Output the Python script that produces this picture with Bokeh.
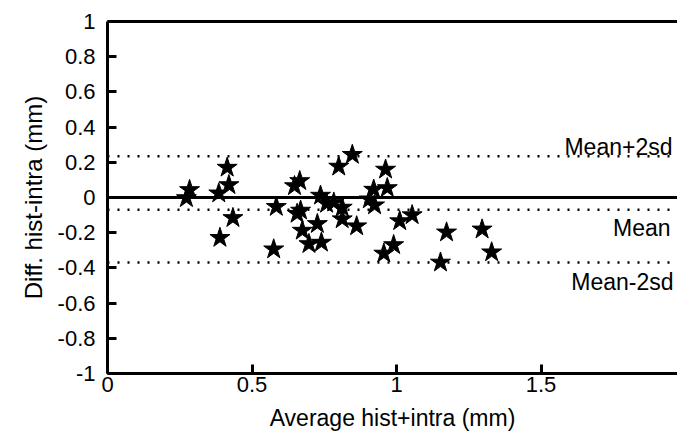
from bokeh.plotting import figure
from bokeh.models import Span, Label, LinearAxis, FixedTicker, Range1d, ColumnDataSource
from bokeh.embed import file_html
from bokeh.resources import INLINE

# Data
avg_mm = [0.284, 0.273, 0.385, 0.414, 0.420, 0.389, 0.434, 0.575, 0.584, 0.647,
          0.665, 0.656, 0.674, 0.726, 0.697, 0.740, 0.737, 0.758, 0.800, 0.847,
          0.783, 0.812, 0.812, 0.862, 0.906, 0.921, 0.968, 0.962, 1.011, 1.054,
          0.990, 0.956, 1.173, 1.152, 1.296, 1.329, 0.924, 0.668]
diff_mm = [0.043, -0.003, 0.024, 0.170, 0.071, -0.229, -0.116, -0.294, -0.053, 0.065,
           0.094, -0.092, -0.188, -0.150, -0.264, -0.256, 0.011, -0.035, 0.176, 0.243,
           -0.028, -0.057, -0.123, -0.163, -0.010, 0.045, 0.054, 0.159, -0.134, -0.100,
           -0.270, -0.318, -0.198, -0.369, -0.181, -0.311, -0.044, -0.074]

mean_diff = -0.07
upper_lim = 0.235
lower_lim = -0.37
line_names = ["Mean+2sd", "Mean", "Mean-2sd"]

x_ticks = [0, 0.5, 1, 1.5]
x_tick_labels = ["0", "0.5", "1", "1.5"]
y_ticks = [1, 0.8, 0.6, 0.4, 0.2, 0, -0.2, -0.4, -0.6, -0.8, -1]
y_tick_labels = ["1", "0.8", "0.6", "0.4", "0.2", "0", "-0.2", "-0.4", "-0.6", "-0.8", "-1"]

x_min, x_max = 0, 1.972
y_min, y_max = -1, 1

FONT = "Liberation Sans"

p = figure(width=677, height=437, output_backend="svg", toolbar_location=None,
           x_range=Range1d(x_min, x_max), y_range=Range1d(y_min, y_max),
           min_border_left=107, min_border_right=0, min_border_top=21, min_border_bottom=64)
p.outline_line_color = None
p.grid.visible = False
p.background_fill_color = "white"
p.border_fill_color = "white"

for ax in (p.xaxis[0], p.yaxis[0]):
    ax.axis_line_width = 3
    ax.axis_line_color = "black"
    ax.major_tick_in = 9
    ax.major_tick_out = 0
    ax.major_tick_line_width = 3
    ax.minor_tick_line_color = None
    ax.major_label_text_font = FONT
    ax.major_label_text_font_size = "22px"
    ax.major_label_text_color = "black"
    ax.axis_label_text_font = FONT
    ax.axis_label_text_font_size = "23px"
    ax.axis_label_text_font_style = "normal"
    ax.axis_label_text_color = "black"

p.xaxis[0].ticker = FixedTicker(ticks=x_ticks)
p.xaxis[0].major_label_overrides = dict(zip(x_ticks, x_tick_labels))
p.xaxis[0].major_label_standoff = 3
p.xaxis[0].axis_label = "Average hist+intra (mm)"
p.xaxis[0].axis_label_standoff = 10

p.yaxis[0].ticker = FixedTicker(ticks=y_ticks)
p.yaxis[0].major_label_overrides = dict(zip(y_ticks, y_tick_labels))
p.yaxis[0].major_label_standoff = 12
p.yaxis[0].axis_label = "Diff. hist-intra (mm)"
p.yaxis[0].axis_label_standoff = 8
p.yaxis[0].axis_label_text_font_size = "24px"

top = LinearAxis(ticker=FixedTicker(ticks=[]), axis_line_width=3, axis_line_color="black",
                 major_tick_in=0, major_tick_out=0, minor_tick_line_color=None,
                 major_label_text_color=None)
p.add_layout(top, "above")

p.add_layout(Span(location=0, dimension="width", line_color="black", line_width=3))
for loc in (upper_lim, mean_diff, lower_lim):
    p.add_layout(Span(location=loc, dimension="width", line_color="black",
                      line_width=2.5, line_dash="2 8"))

src = ColumnDataSource(dict(x=avg_mm, y=diff_mm))
p.scatter("x", "y", source=src, marker="star", size=21, fill_color="black",
          line_color="black", line_width=1)

lab_kw = dict(text_font=FONT, text_font_size="23px", text_color="black", text_align="right")
p.add_layout(Label(x=x_max, y=upper_lim, text=line_names[0], x_offset=-5, y_offset=9,
                   text_baseline="alphabetic", **lab_kw))
p.add_layout(Label(x=x_max, y=mean_diff, text=line_names[1], x_offset=-7, y_offset=-5,
                   text_baseline="top", **lab_kw))
p.add_layout(Label(x=x_max, y=lower_lim, text=line_names[2], x_offset=-4, y_offset=-6,
                   text_baseline="top", **lab_kw))

open("out.html", "w").write(file_html(p, INLINE))
